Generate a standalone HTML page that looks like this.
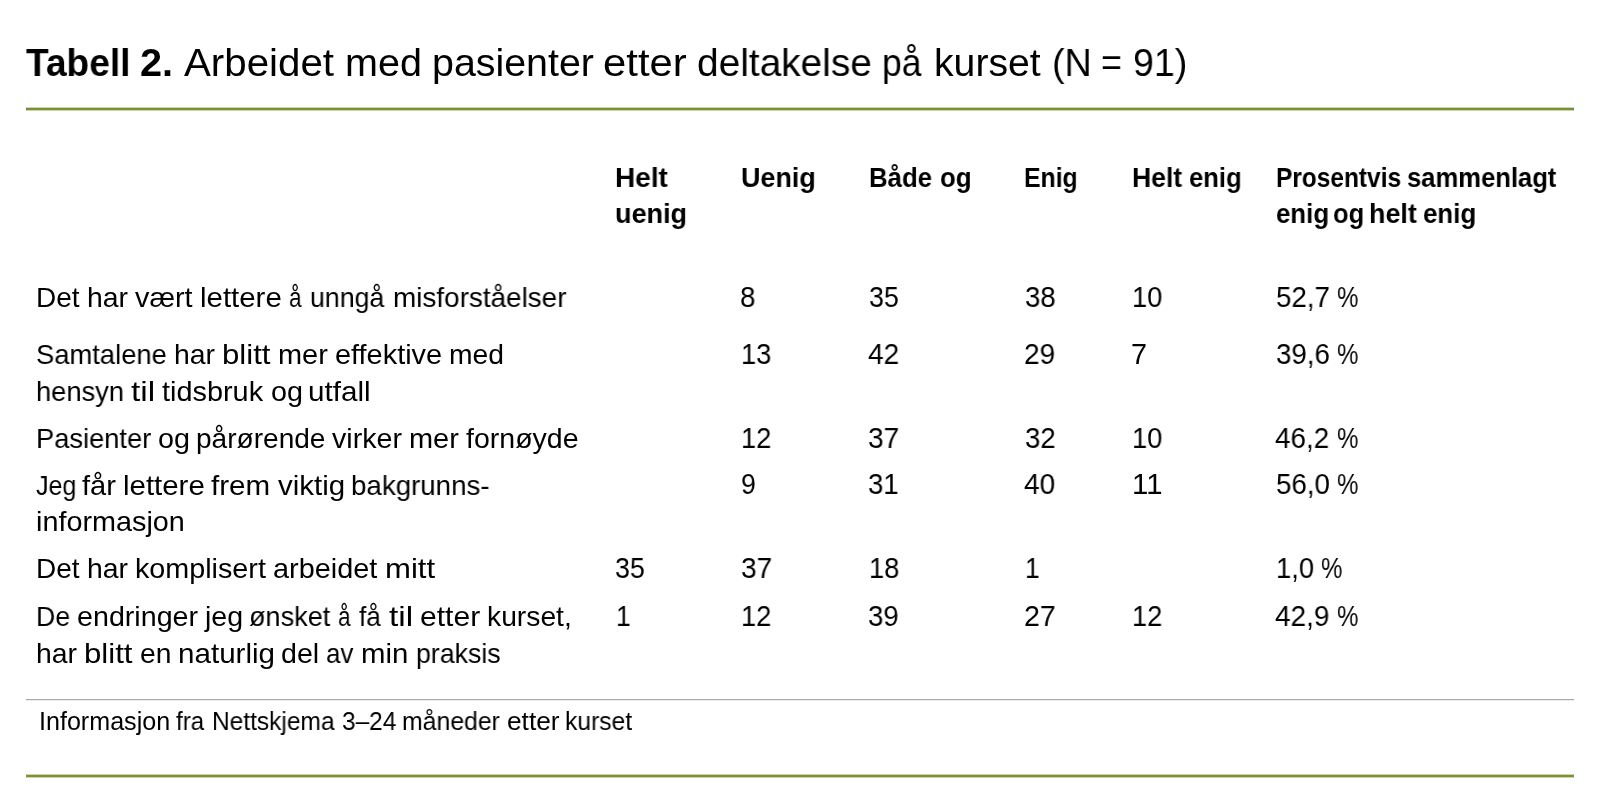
<!DOCTYPE html>
<html lang="no"><head><meta charset="utf-8"><title>Tabell 2. Arbeidet med pasienter etter deltakelse på kurset</title>
<style>
html,body{margin:0;padding:0;background:#fff;}
body{width:1600px;height:794px;position:relative;overflow:hidden;font-family:"Liberation Sans",sans-serif;color:#000;}
.t{position:absolute;white-space:pre;transform-origin:0 0;will-change:transform;}
.b{font-weight:700;}
.rule{position:absolute;left:26px;width:1548px;}
</style></head><body>
<div class="rule" style="top:107px;height:4px;background:linear-gradient(#cad6ad 0 1px,#77932d 1px 3px,#cad6ad 3px 4px)"></div>
<div class="rule" style="top:699px;height:2px;background:linear-gradient(#a6a6a6 0 1px,#ededed 1px 2px)"></div>
<div class="rule" style="top:774px;height:4px;background:linear-gradient(#cad6ad 0 1px,#77932d 1px 3px,#cad6ad 3px 4px)"></div>
<div class="t b" style="left:25.52px;top:43px;font-size:39px;line-height:39px;transform:scaleX(0.9507)">Tabell</div>
<div class="t b" style="left:139.65px;top:43px;font-size:39px;line-height:39px;transform:scaleX(1.0175)">2.</div>
<div class="t r" style="left:183.74px;top:43px;font-size:39px;line-height:39px;transform:scaleX(1.0328)">Arbeidet</div>
<div class="t r" style="left:344.54px;top:43px;font-size:39px;line-height:39px;transform:scaleX(1.0141)">med</div>
<div class="t r" style="left:431.93px;top:43px;font-size:39px;line-height:39px;transform:scaleX(1.0095)">pasienter</div>
<div class="t r" style="left:603.22px;top:43px;font-size:39px;line-height:39px;transform:scaleX(1.0726)">etter</div>
<div class="t r" style="left:696.71px;top:43px;font-size:39px;line-height:39px;transform:scaleX(0.9956)">deltakelse</div>
<div class="t r" style="left:881.90px;top:43px;font-size:39px;line-height:39px;transform:scaleX(0.9085)">på</div>
<div class="t r" style="left:933.66px;top:43px;font-size:39px;line-height:39px;transform:scaleX(1.0048)">kurset</div>
<div class="t r" style="left:1051.54px;top:43px;font-size:39px;line-height:39px;transform:scaleX(0.9648)">(N</div>
<div class="t r" style="left:1101.00px;top:43px;font-size:39px;line-height:39px;transform:scaleX(0.9200)">=</div>
<div class="t r" style="left:1132.82px;top:43px;font-size:39px;line-height:39px;transform:scaleX(0.9617)">91)</div>
<div class="t r" style="left:35.75px;top:284px;font-size:28px;line-height:28px;transform:scaleX(1.0000)">Det</div>
<div class="t r" style="left:87.13px;top:284px;font-size:28px;line-height:28px;transform:scaleX(1.0132)">har</div>
<div class="t r" style="left:135.09px;top:284px;font-size:28px;line-height:28px;transform:scaleX(1.0270)">vært</div>
<div class="t r" style="left:199.91px;top:284px;font-size:28px;line-height:28px;transform:scaleX(1.0503)">lettere</div>
<div class="t r" style="left:288.54px;top:284px;font-size:28px;line-height:28px;transform:scaleX(0.8070)">å</div>
<div class="t r" style="left:309.91px;top:284px;font-size:28px;line-height:28px;transform:scaleX(0.9541)">unngå</div>
<div class="t r" style="left:393.48px;top:284px;font-size:28px;line-height:28px;transform:scaleX(0.9956)">misforståelser</div>
<div class="t r" style="left:740.44px;top:283px;font-size:28.8px;line-height:28.8px;transform:scaleX(0.9630)">8</div>
<div class="t r" style="left:868.52px;top:283px;font-size:28.8px;line-height:28.8px;transform:scaleX(0.9322)">35</div>
<div class="t r" style="left:1024.60px;top:283px;font-size:28.8px;line-height:28.8px;transform:scaleX(0.9576)">38</div>
<div class="t r" style="left:1131.71px;top:283px;font-size:28.8px;line-height:28.8px;transform:scaleX(0.9478)">10</div>
<div class="t r" style="left:1275.89px;top:283px;font-size:28.8px;line-height:28.8px;transform:scaleX(0.9626)">52,7</div>
<div class="t r" style="left:1336.66px;top:283px;font-size:28.8px;line-height:28.8px;transform:scaleX(0.8404)">%</div>
<div class="t r" style="left:35.78px;top:341px;font-size:28px;line-height:28px;transform:scaleX(0.9772)">Samtalene</div>
<div class="t r" style="left:173.68px;top:341px;font-size:28px;line-height:28px;transform:scaleX(1.0132)">har</div>
<div class="t r" style="left:221.94px;top:341px;font-size:28px;line-height:28px;transform:scaleX(1.1138)">blitt</div>
<div class="t r" style="left:278.11px;top:341px;font-size:28px;line-height:28px;transform:scaleX(1.0328)">mer</div>
<div class="t r" style="left:334.73px;top:341px;font-size:28px;line-height:28px;transform:scaleX(1.0321)">effektive</div>
<div class="t r" style="left:448.64px;top:341px;font-size:28px;line-height:28px;transform:scaleX(1.0099)">med</div>
<div class="t r" style="left:36.30px;top:378px;font-size:28px;line-height:28px;transform:scaleX(0.9740)">hensyn</div>
<div class="t r" style="left:131.25px;top:378px;font-size:28px;line-height:28px;transform:scaleX(1.1972)">til</div>
<div class="t r" style="left:162.23px;top:378px;font-size:28px;line-height:28px;transform:scaleX(1.0308)">tidsbruk</div>
<div class="t r" style="left:270.62px;top:378px;font-size:28px;line-height:28px;transform:scaleX(1.0268)">og</div>
<div class="t r" style="left:307.91px;top:378px;font-size:28px;line-height:28px;transform:scaleX(1.0586)">utfall</div>
<div class="t r" style="left:741.01px;top:340px;font-size:28.8px;line-height:28.8px;transform:scaleX(0.9474)">13</div>
<div class="t r" style="left:867.96px;top:340px;font-size:28.8px;line-height:28.8px;transform:scaleX(0.9748)">42</div>
<div class="t r" style="left:1024.09px;top:340px;font-size:28.8px;line-height:28.8px;transform:scaleX(0.9744)">29</div>
<div class="t r" style="left:1131.09px;top:340px;font-size:28.8px;line-height:28.8px;transform:scaleX(1.0000)">7</div>
<div class="t r" style="left:1275.89px;top:340px;font-size:28.8px;line-height:28.8px;transform:scaleX(0.9626)">39,6</div>
<div class="t r" style="left:1336.66px;top:340px;font-size:28.8px;line-height:28.8px;transform:scaleX(0.8404)">%</div>
<div class="t r" style="left:36.06px;top:425px;font-size:28px;line-height:28px;transform:scaleX(0.9740)">Pasienter</div>
<div class="t r" style="left:158.14px;top:425px;font-size:28px;line-height:28px;transform:scaleX(1.0268)">og</div>
<div class="t r" style="left:195.78px;top:425px;font-size:28px;line-height:28px;transform:scaleX(1.0020)">pårørende</div>
<div class="t r" style="left:331.99px;top:425px;font-size:28px;line-height:28px;transform:scaleX(1.0221)">virker</div>
<div class="t r" style="left:409.20px;top:425px;font-size:28px;line-height:28px;transform:scaleX(1.0328)">mer</div>
<div class="t r" style="left:465.85px;top:425px;font-size:28px;line-height:28px;transform:scaleX(1.0184)">fornøyde</div>
<div class="t r" style="left:741.01px;top:424px;font-size:28.8px;line-height:28.8px;transform:scaleX(0.9469)">12</div>
<div class="t r" style="left:868.47px;top:424px;font-size:28.8px;line-height:28.8px;transform:scaleX(0.9744)">37</div>
<div class="t r" style="left:1024.60px;top:424px;font-size:28.8px;line-height:28.8px;transform:scaleX(0.9573)">32</div>
<div class="t r" style="left:1131.71px;top:424px;font-size:28.8px;line-height:28.8px;transform:scaleX(0.9478)">10</div>
<div class="t r" style="left:1275.37px;top:424px;font-size:28.8px;line-height:28.8px;transform:scaleX(0.9676)">46,2</div>
<div class="t r" style="left:1336.66px;top:424px;font-size:28.8px;line-height:28.8px;transform:scaleX(0.8404)">%</div>
<div class="t r" style="left:36.05px;top:472px;font-size:28px;line-height:28px;transform:scaleX(0.8947)">Jeg</div>
<div class="t r" style="left:81.90px;top:472px;font-size:28px;line-height:28px;transform:scaleX(1.0394)">får</div>
<div class="t r" style="left:123.20px;top:472px;font-size:28px;line-height:28px;transform:scaleX(1.0503)">lettere</div>
<div class="t r" style="left:211.30px;top:472px;font-size:28px;line-height:28px;transform:scaleX(1.0558)">frem</div>
<div class="t r" style="left:277.56px;top:472px;font-size:28px;line-height:28px;transform:scaleX(1.0526)">viktig</div>
<div class="t r" style="left:350.85px;top:472px;font-size:28px;line-height:28px;transform:scaleX(0.9891)">bakgrunns-</div>
<div class="t r" style="left:35.69px;top:508px;font-size:28px;line-height:28px;transform:scaleX(1.0284)">informasjon</div>
<div class="t r" style="left:741.23px;top:470px;font-size:28.8px;line-height:28.8px;transform:scaleX(0.9259)">9</div>
<div class="t r" style="left:868.49px;top:470px;font-size:28.8px;line-height:28.8px;transform:scaleX(0.9573)">31</div>
<div class="t r" style="left:1024.07px;top:470px;font-size:28.8px;line-height:28.8px;transform:scaleX(0.9752)">40</div>
<div class="t r" style="left:1131.55px;top:470px;font-size:28.8px;line-height:28.8px;transform:scaleX(1.0190)">11</div>
<div class="t r" style="left:1275.89px;top:470px;font-size:28.8px;line-height:28.8px;transform:scaleX(0.9628)">56,0</div>
<div class="t r" style="left:1336.66px;top:470px;font-size:28.8px;line-height:28.8px;transform:scaleX(0.8404)">%</div>
<div class="t r" style="left:35.75px;top:555px;font-size:28px;line-height:28px;transform:scaleX(1.0000)">Det</div>
<div class="t r" style="left:87.13px;top:555px;font-size:28px;line-height:28px;transform:scaleX(1.0132)">har</div>
<div class="t r" style="left:135.04px;top:555px;font-size:28px;line-height:28px;transform:scaleX(1.0259)">komplisert</div>
<div class="t r" style="left:273.23px;top:555px;font-size:28px;line-height:28px;transform:scaleX(1.0301)">arbeidet</div>
<div class="t r" style="left:384.90px;top:555px;font-size:28px;line-height:28px;transform:scaleX(1.1105)">mitt</div>
<div class="t r" style="left:615.23px;top:554px;font-size:28.8px;line-height:28.8px;transform:scaleX(0.9322)">35</div>
<div class="t r" style="left:740.67px;top:554px;font-size:28.8px;line-height:28.8px;transform:scaleX(0.9744)">37</div>
<div class="t r" style="left:868.81px;top:554px;font-size:28.8px;line-height:28.8px;transform:scaleX(0.9474)">18</div>
<div class="t r" style="left:1024.98px;top:554px;font-size:28.8px;line-height:28.8px;transform:scaleX(0.9184)">1</div>
<div class="t r" style="left:1276.20px;top:554px;font-size:28.8px;line-height:28.8px;transform:scaleX(0.9524)">1,0</div>
<div class="t r" style="left:1321.19px;top:554px;font-size:28.8px;line-height:28.8px;transform:scaleX(0.8404)">%</div>
<div class="t r" style="left:35.85px;top:603px;font-size:28px;line-height:28px;transform:scaleX(0.9535)">De</div>
<div class="t r" style="left:76.58px;top:603px;font-size:28px;line-height:28px;transform:scaleX(1.0236)">endringer</div>
<div class="t r" style="left:204.58px;top:603px;font-size:28px;line-height:28px;transform:scaleX(1.0207)">jeg</div>
<div class="t r" style="left:248.84px;top:603px;font-size:28px;line-height:28px;transform:scaleX(0.9669)">ønsket</div>
<div class="t r" style="left:337.68px;top:603px;font-size:28px;line-height:28px;transform:scaleX(0.8070)">å</div>
<div class="t r" style="left:358.75px;top:603px;font-size:28px;line-height:28px;transform:scaleX(0.9341)">få</div>
<div class="t r" style="left:389.10px;top:603px;font-size:28px;line-height:28px;transform:scaleX(1.1972)">til</div>
<div class="t r" style="left:419.77px;top:603px;font-size:28px;line-height:28px;transform:scaleX(1.0737)">etter</div>
<div class="t r" style="left:486.84px;top:603px;font-size:28px;line-height:28px;transform:scaleX(1.0094)">kurset,</div>
<div class="t r" style="left:36.22px;top:640px;font-size:28px;line-height:28px;transform:scaleX(1.0132)">har</div>
<div class="t r" style="left:84.49px;top:640px;font-size:28px;line-height:28px;transform:scaleX(1.1138)">blitt</div>
<div class="t r" style="left:140.21px;top:640px;font-size:28px;line-height:28px;transform:scaleX(1.0089)">en</div>
<div class="t r" style="left:178.46px;top:640px;font-size:28px;line-height:28px;transform:scaleX(1.0568)">naturlig</div>
<div class="t r" style="left:280.80px;top:640px;font-size:28px;line-height:28px;transform:scaleX(1.0219)">del</div>
<div class="t r" style="left:326.28px;top:640px;font-size:28px;line-height:28px;transform:scaleX(0.9292)">av</div>
<div class="t r" style="left:361.14px;top:640px;font-size:28px;line-height:28px;transform:scaleX(1.0485)">min</div>
<div class="t r" style="left:415.61px;top:640px;font-size:28px;line-height:28px;transform:scaleX(0.9535)">praksis</div>
<div class="t r" style="left:615.57px;top:602px;font-size:28.8px;line-height:28.8px;transform:scaleX(0.9184)">1</div>
<div class="t r" style="left:741.01px;top:602px;font-size:28.8px;line-height:28.8px;transform:scaleX(0.9469)">12</div>
<div class="t r" style="left:868.49px;top:602px;font-size:28.8px;line-height:28.8px;transform:scaleX(0.9576)">39</div>
<div class="t r" style="left:1024.06px;top:602px;font-size:28.8px;line-height:28.8px;transform:scaleX(0.9914)">27</div>
<div class="t r" style="left:1131.71px;top:602px;font-size:28.8px;line-height:28.8px;transform:scaleX(0.9469)">12</div>
<div class="t r" style="left:1275.36px;top:602px;font-size:28.8px;line-height:28.8px;transform:scaleX(0.9722)">42,9</div>
<div class="t r" style="left:1336.66px;top:602px;font-size:28.8px;line-height:28.8px;transform:scaleX(0.8404)">%</div>
<div class="t r" style="left:38.74px;top:709px;font-size:25px;line-height:25px;transform:scaleX(1.0039)">Informasjon</div>
<div class="t r" style="left:175.93px;top:709px;font-size:25px;line-height:25px;transform:scaleX(0.9655)">fra</div>
<div class="t r" style="left:211.84px;top:709px;font-size:25px;line-height:25px;transform:scaleX(0.9797)">Nettskjema</div>
<div class="t r" style="left:342.27px;top:709px;font-size:25px;line-height:25px;transform:scaleX(0.9767)">3–24</div>
<div class="t r" style="left:402.42px;top:709px;font-size:25px;line-height:25px;transform:scaleX(0.9922)">måneder</div>
<div class="t r" style="left:506.59px;top:709px;font-size:25px;line-height:25px;transform:scaleX(1.0515)">etter</div>
<div class="t r" style="left:565.31px;top:709px;font-size:25px;line-height:25px;transform:scaleX(0.9849)">kurset</div>
<div class="t b" style="left:614.93px;top:163px;font-size:28.5px;line-height:28.5px;transform:scaleX(0.9825)">Helt</div>
<div class="t b" style="left:614.84px;top:199px;font-size:28.5px;line-height:28.5px;transform:scaleX(0.9481)">uenig</div>
<div class="t b" style="left:741.15px;top:163px;font-size:28.5px;line-height:28.5px;transform:scaleX(0.9444)">Uenig</div>
<div class="t b" style="left:868.69px;top:163px;font-size:28.5px;line-height:28.5px;transform:scaleX(0.9049)">Både</div>
<div class="t b" style="left:939.70px;top:163px;font-size:28.5px;line-height:28.5px;transform:scaleX(0.9031)">og</div>
<div class="t b" style="left:1024.46px;top:163px;font-size:28.5px;line-height:28.5px;transform:scaleX(0.8693)">Enig</div>
<div class="t b" style="left:1132.14px;top:163px;font-size:28.5px;line-height:28.5px;transform:scaleX(0.9320)">Helt</div>
<div class="t b" style="left:1189.00px;top:163px;font-size:28.5px;line-height:28.5px;transform:scaleX(0.8987)">enig</div>
<div class="t b" style="left:1275.58px;top:163px;font-size:28.5px;line-height:28.5px;transform:scaleX(0.8582)">Prosentvis</div>
<div class="t b" style="left:1406.90px;top:163px;font-size:28.5px;line-height:28.5px;transform:scaleX(0.8982)">sammenlagt</div>
<div class="t b" style="left:1275.69px;top:199px;font-size:28.5px;line-height:28.5px;transform:scaleX(0.9058)">enig</div>
<div class="t b" style="left:1333.01px;top:199px;font-size:28.5px;line-height:28.5px;transform:scaleX(0.8937)">og</div>
<div class="t b" style="left:1368.51px;top:199px;font-size:28.5px;line-height:28.5px;transform:scaleX(0.9430)">helt</div>
<div class="t b" style="left:1422.59px;top:199px;font-size:28.5px;line-height:28.5px;transform:scaleX(0.9076)">enig</div>
</body></html>
